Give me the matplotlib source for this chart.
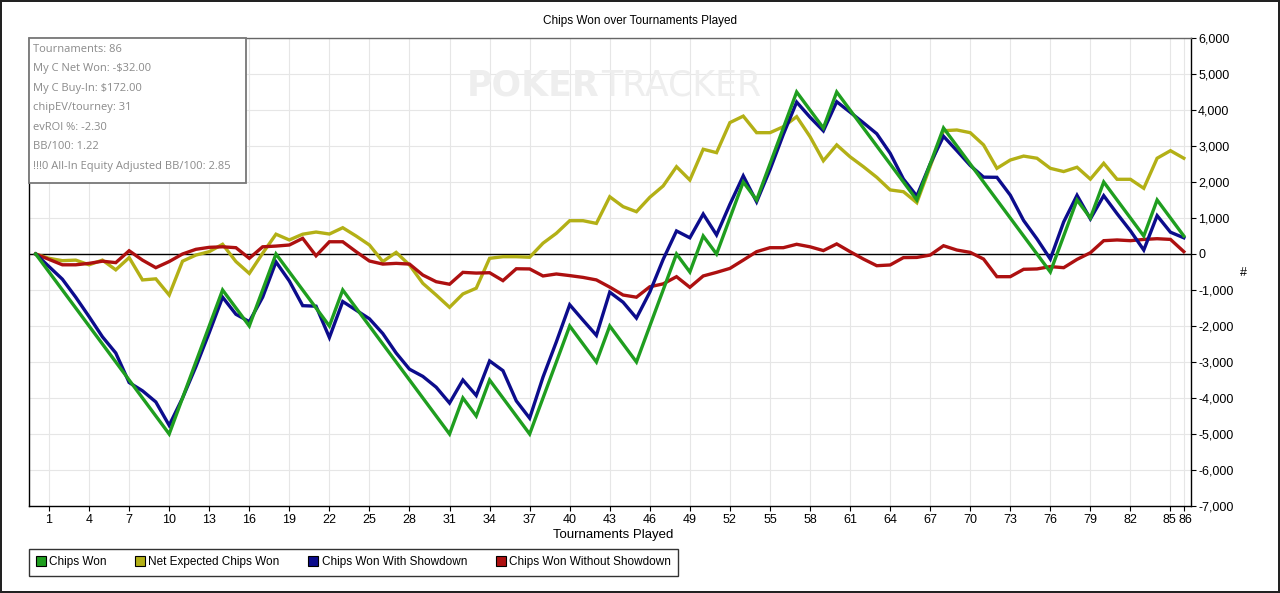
import matplotlib
matplotlib.use("Agg")
import matplotlib.pyplot as plt
import matplotlib.transforms as mtransforms
from matplotlib.ticker import FuncFormatter
from matplotlib.lines import Line2D
from matplotlib.patches import Rectangle

# tournaments played, 0 = start
tourneys = list(range(0, 87))

chips_won = [0,
             -500, -1000, -1500, -2000, -2500, -3000, -3500, -4000, -4500, -5000,
             -4000, -3000, -2000, -1000, -1500, -2000, -1000, 0, -500, -1000,
             -1500, -2000, -1000, -1500, -2000, -2500, -3000, -3500, -4000, -4500,
             -5000, -4000, -4500, -3500, -4000, -4500, -5000, -4000, -3000, -2000,
             -2500, -3000, -2000, -2500, -3000, -2000, -1000, 0, -500, 500,
             0, 1000, 2000, 1500, 2500, 3500, 4500, 4000, 3500, 4500,
             4000, 3500, 3000, 2500, 2000, 1500, 2500, 3500, 3000, 2500,
             2000, 1500, 1000, 500, 0, -500, 500, 1500, 1000, 2000,
             1500, 1000, 500, 1500, 1000, 500]

net_expected = [0,
                -120, -185, -170, -300, -170, -440, -100, -720, -690, -1140,
                -200, -30, 65, 270, -210, -540, 20, 550, 390, 550,
                610, 555, 730, 500, 250, -210, 45, -305, -815, -1140,
                -1480, -1110, -950, -120, -75, -75, -90, 300, 575, 925,
                925, 850, 1590, 1315, 1175, 1575, 1890, 2425, 2055, 2910,
                2815, 3650, 3830, 3370, 3370, 3535, 3815, 3260, 2590, 3030,
                2700, 2425, 2130, 1780, 1730, 1425, 2430, 3425, 3445, 3370,
                3030, 2380, 2610, 2720, 2660, 2380, 2290, 2410, 2080, 2520,
                2075, 2075, 1825, 2660, 2870, 2660]

with_showdown = [0,
                 -350, -700, -1200, -1740, -2300, -2750, -3570, -3800, -4110, -4760,
                 -4000, -3130, -2185, -1200, -1675, -1880, -1200, -220, -750, -1435,
                 -1450, -2320, -1320, -1560, -1800, -2210, -2750, -3200, -3400, -3700,
                 -4140, -3500, -3930, -2970, -3240, -4080, -4560, -3420, -2440, -1410,
                 -1840, -2260, -1060, -1340, -1780, -1060, -150, 640, 450, 1110,
                 530, 1380, 2170, 1450, 2340, 3320, 4220, 3800, 3420, 4230,
                 3940, 3645, 3340, 2800, 2080, 1610, 2500, 3270, 2870, 2460,
                 2135, 2130, 1635, 930, 420, -140, 890, 1630, 975, 1620,
                 1120, 645, 110, 1065, 605, 450]

without_showdown = [0,
                    -150, -300, -300, -260, -200, -240, 90, -170, -380, -210,
                    0, 130, 185, 200, 175, -120, 200, 220, 250, 435,
                    -50, 340, 340, 65, -195, -280, -260, -280, -585, -770,
                    -840, -510, -530, -520, -740, -410, -415, -610, -555, -600,
                    -650, -720, -920, -1140, -1200, -910, -830, -630, -925, -610,
                    -510, -400, -170, 65, 175, 175, 270, 200, 95, 280,
                    65, -140, -325, -305, -100, -95, -30, 230, 110, 45,
                    -140, -630, -630, -425, -415, -350, -380, -150, 35, 370,
                    390, 370, 405, 425, 405, 65]

series_names = ["Chips Won", "Net Expected Chips Won",
                "Chips Won With Showdown", "Chips Won Without Showdown"]
series_colors = ["#1f9e1f", "#b3b016", "#0c0c8c", "#ad1010"]

x_ticks = list(range(1, 86, 3)) + [86]
y_ticks = list(range(-7000, 6001, 1000))

info_lines = ["Tournaments: 86",
              "My C Net Won: -$32.00",
              "My C Buy-In: $172.00",
              "chipEV/tourney: 31",
              "evROI %: -2.30",
              "BB/100: 1.22",
              "!!!0 All-In Equity Adjusted BB/100: 2.85"]

tick_font = ["Liberation Sans", "DejaVu Sans"]
W, H = 1280, 593


def fx(px):
    return px / W


def fy(py):
    return 1 - py / H


fig = plt.figure(figsize=(12.8, 5.93), dpi=100)
fig.patch.set_edgecolor("#222222")
fig.patch.set_linewidth(1.5)
ax = fig.add_axes([fx(29), fy(506), (1190.5 - 29) / W, (506 - 38) / H])

ax.set_xlim(-0.5, 86.5)
ax.set_ylim(-7000, 6000)

ax.set_xticks(x_ticks)
ax.set_yticks(y_ticks)
ax.grid(True, color="#e6e6e6", linewidth=0.8)
ax.set_axisbelow(True)
ax.axhline(0, color="black", linewidth=1.0, zorder=2)

# draw order: olive, red, blue, green on top
all_series = [chips_won, net_expected, with_showdown, without_showdown]
order = [1, 3, 2, 0]
for k, i in enumerate(order):
    ax.plot(tourneys, all_series[i], color=series_colors[i], linewidth=2.4,
            solid_joinstyle="miter", zorder=3 + k)

ax.yaxis.tick_right()
ax.yaxis.set_major_formatter(FuncFormatter(lambda v, p: f"{int(v):,}"))
ax.tick_params(axis="both", length=3.5, width=0.8, colors="black", labelsize=9, pad=2)
for lab in ax.get_xticklabels() + ax.get_yticklabels():
    lab.set_family(tick_font)

# the last two ticks sit close together, nudge their labels apart a little
xlabs = ax.get_xticklabels()
xlabs[-2].set_transform(xlabs[-2].get_transform() +
                        mtransforms.ScaledTranslation(-1.5 / 100, 0, fig.dpi_scale_trans))
xlabs[-1].set_transform(xlabs[-1].get_transform() +
                        mtransforms.ScaledTranslation(1.5 / 100, 0, fig.dpi_scale_trans))

fig.text(fx(1243), fy(273), "#", ha="center", va="center", fontsize=9, family=tick_font)
fig.text(fx(613), fy(535), "Tournaments Played", ha="center", va="center",
         fontsize=9.5, family=tick_font)

for side in ["left", "bottom", "right"]:
    ax.spines[side].set_color("black")
    ax.spines[side].set_linewidth(1.0)
ax.spines["top"].set_color("#666666")
ax.spines["top"].set_linewidth(1.0)

fig.text(0.5, fy(21), "Chips Won over Tournaments Played", ha="center", va="center",
         fontsize=8.5, family=["Liberation Sans", "DejaVu Sans"])

# faint watermark
fig.text(fx(599), fy(86), "POKER", ha="right", va="center", fontsize=25,
         fontweight="bold", color="#eeeeee", family="DejaVu Sans", zorder=0)
fig.text(fx(601), fy(86), "TRACKER", ha="left", va="center", fontsize=25,
         color="#eeeeee", family="DejaVu Sans", zorder=0)

# stats box
fig.patches.append(Rectangle((fx(29), fy(183)), fx(246) - fx(29), fy(38) - fy(183),
                             transform=fig.transFigure, facecolor="white",
                             edgecolor="#777777", linewidth=1.3, zorder=10))
for i, line in enumerate(info_lines):
    fig.text(fx(33), fy(49 + 19.5 * i), line, ha="left", va="center", fontsize=8,
             color="#8a8a8a", family="Open Sans", zorder=11)

# legend below the axes
handles = [Line2D([], [], linestyle="none", marker="s", markersize=7,
                  markerfacecolor=c, markeredgecolor="black", markeredgewidth=0.8)
           for c in series_colors]
leg = fig.legend(handles, series_names, loc="lower left",
                 bbox_to_anchor=(fx(29), fy(576)), borderaxespad=0, ncol=4, frameon=True,
                 fancybox=False, handlelength=0.7, handletextpad=0.35, columnspacing=2.5,
                 borderpad=0.65, prop={"family": tick_font, "size": 8.5})
leg.get_frame().set_edgecolor("black")
leg.get_frame().set_linewidth(1.0)

fig.savefig("out.png", dpi=100, edgecolor=fig.get_edgecolor())
